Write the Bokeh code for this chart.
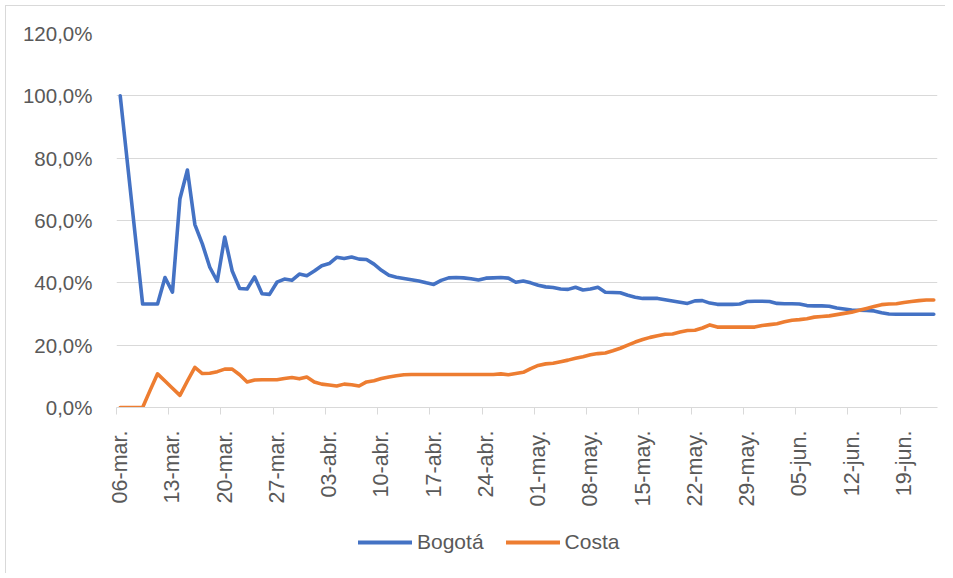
from bokeh.plotting import figure
from bokeh.models import Range1d, FixedTicker, Legend, LegendItem, CustomJSTickFormatter
from bokeh.layouts import column
from bokeh.embed import file_html
from bokeh.resources import INLINE
import math

# 06-mar. .. 23-jun. (110 daily values), index 0 = 06-mar.
bogota = [100.0, 77.7, 55.4, 33.2, 33.2, 33.2, 41.7, 37.0, 67.0, 76.2,
          58.7, 52.5, 45.0, 40.5, 54.7, 43.8, 38.2, 38.0, 41.9, 36.5,
          36.3, 40.2, 41.2, 40.8, 42.8, 42.3, 43.8, 45.5, 46.2, 48.2,
          47.8, 48.3, 47.6, 47.5, 46.0, 44.0, 42.4, 41.8, 41.4, 41.0,
          40.6, 40.0, 39.5, 40.8, 41.6, 41.7, 41.6, 41.3, 40.9, 41.5,
          41.6, 41.7, 41.5, 40.2, 40.6, 40.0, 39.2, 38.7, 38.5, 38.0,
          37.9, 38.6, 37.7, 38.0, 38.6, 37.0, 36.9, 36.8, 36.0, 35.4,
          35.0, 35.0, 35.0, 34.6, 34.2, 33.8, 33.4, 34.2, 34.3, 33.5,
          33.1, 33.1, 33.1, 33.2, 34.0, 34.1, 34.1, 34.0, 33.4, 33.3,
          33.3, 33.2, 32.7, 32.6, 32.6, 32.5, 31.9, 31.6, 31.3, 31.2,
          31.1, 31.0, 30.4, 30.0, 29.9, 29.9, 29.9, 29.9, 29.9, 29.9]

costa = [0.0, 0.0, 0.0, 0.0, 5.5, 10.8, 8.5, 6.2, 3.9, 8.5,
         12.9, 10.9, 11.0, 11.5, 12.3, 12.3, 10.5, 8.2, 8.8, 8.9,
         8.9, 8.9, 9.3, 9.6, 9.2, 9.8, 8.2, 7.5, 7.2, 6.9,
         7.5, 7.3, 6.9, 8.2, 8.6, 9.3, 9.8, 10.2, 10.5, 10.6,
         10.6, 10.6, 10.6, 10.6, 10.6, 10.6, 10.6, 10.6, 10.6, 10.6,
         10.6, 10.8, 10.5, 10.9, 11.3, 12.5, 13.5, 14.0, 14.2, 14.7,
         15.2, 15.8, 16.3, 16.9, 17.3, 17.5, 18.2, 19.0, 20.0, 21.0,
         21.8, 22.5, 23.0, 23.5, 23.6, 24.2, 24.7, 24.8, 25.5, 26.5,
         25.8, 25.8, 25.8, 25.8, 25.8, 25.8, 26.3, 26.6, 26.9, 27.5,
         28.0, 28.2, 28.5, 29.0, 29.2, 29.4, 29.8, 30.2, 30.6, 31.2,
         31.8, 32.4, 33.0, 33.2, 33.3, 33.7, 34.0, 34.3, 34.5, 34.5]

tick_days = [0, 7, 14, 21, 28, 35, 42, 49, 56, 63, 70, 77, 84, 91, 98, 105]
tick_labels = ["06-mar.", "13-mar.", "20-mar.", "27-mar.", "03-abr.", "10-abr.",
               "17-abr.", "24-abr.", "01-may.", "08-may.", "15-may.", "22-may.",
               "29-may.", "05-jun.", "12-jun.", "19-jun."]
y_ticks = [0, 20, 40, 60, 80, 100, 120]
series_names = ["Bogotá", "Costa"]
series_colors = ["#4472C4", "#ED7D31"]
series_values = [bogota, costa]

days = list(range(len(bogota)))

FONT = "Liberation Sans"
TXT = "#595959"
GRID = "#d9d9d9"

p = figure(width=939, height=519, output_backend="svg", toolbar_location=None,
           x_range=Range1d(-0.5, len(days) - 0.5), y_range=Range1d(0, 120),
           min_border_left=110, min_border_right=8, min_border_top=27,
           min_border_bottom=118)
p.outline_line_color = None
p.background_fill_color = "white"
p.border_fill_color = "white"

for vals, col in zip(series_values, series_colors):
    p.line(days, vals, line_color=col, line_width=3.6, line_join="round", line_cap="round")

# x axis
xa = p.xaxis[0]
xa.ticker = FixedTicker(ticks=tick_days, minor_ticks=[d - 0.5 for d in tick_days])
xa.major_label_overrides = {d: l for d, l in zip(tick_days, tick_labels)}
xa.major_label_orientation = math.pi / 2
xa.major_tick_out = 0
xa.major_tick_in = 0
xa.minor_tick_out = 7
xa.minor_tick_in = 0
xa.minor_tick_line_color = GRID
xa.axis_line_color = GRID
xa.major_label_standoff = 16
xa.major_label_text_font = FONT
xa.major_label_text_font_size = "21.5px"
xa.major_label_text_color = TXT

# y axis
ya = p.yaxis[0]
ya.ticker = FixedTicker(ticks=y_ticks)
ya.formatter = CustomJSTickFormatter(code="return tick.toFixed(1).replace('.', ',') + '%';")
ya.axis_line_color = None
ya.major_tick_line_color = None
ya.major_tick_out = 0
ya.major_tick_in = 0
ya.minor_tick_line_color = None
ya.major_label_standoff = 24
ya.major_label_text_font = FONT
ya.major_label_text_font_size = "20.5px"
ya.major_label_text_color = TXT

p.xgrid.grid_line_color = None
p.ygrid.ticker = FixedTicker(ticks=y_ticks[1:])
p.ygrid.grid_line_color = GRID
p.ygrid.grid_line_width = 1.2

# legend strip below the chart (series drawn out of its visible range)
p2 = figure(width=939, height=48, output_backend="svg", toolbar_location=None,
            x_range=Range1d(-0.5, len(days) - 0.5), y_range=Range1d(500, 501),
            min_border_left=0, min_border_right=0, min_border_top=0, min_border_bottom=0)
p2.axis.visible = False
p2.grid.grid_line_color = None
p2.outline_line_color = None
p2.border_fill_color = "white"
p2.background_fill_color = "white"
items = []
for name, vals, col in zip(series_names, series_values, series_colors):
    rr = p2.line(days, vals, line_color=col, line_width=4, line_cap="round")
    items.append(LegendItem(label=name, renderers=[rr]))
legend = Legend(items=items, orientation="horizontal", location=(242, 19),
                glyph_width=54, glyph_height=20, label_standoff=5, spacing=22,
                padding=0, margin=0, border_line_color=None,
                background_fill_alpha=0,
                label_text_font=FONT, label_text_font_size="21px",
                label_text_color=TXT)
p2.add_layout(legend, "center")

layout = column(p, p2, spacing=0)
layout.margin = (5, 0, 0, 5)
layout.styles = {"border-top": "1px solid #d9d9d9", "border-left": "1px solid #d9d9d9"}

open("out.html", "w").write(file_html(layout, INLINE))
